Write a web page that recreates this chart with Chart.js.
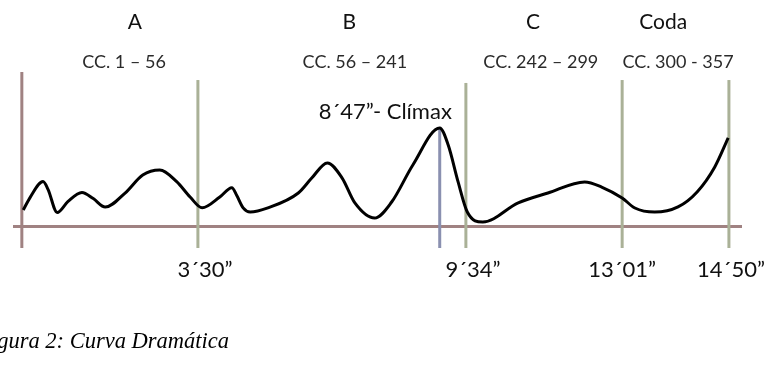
<!DOCTYPE html>
<html>
<head>
<meta charset="utf-8">
<script src="https://cdn.jsdelivr.net/npm/chart.js@4"></script>
<style>
  body { margin: 0; background: #fff; }
</style>
</head>
<body>
<canvas id="myChart" width="771" height="384"></canvas>
<script>
// Dramatic curve (x: position along the piece, y: tension)
const curveX = [0.2, 1.2, 3.0, 3.7, 5.0, 6.5, 8.5, 10.1, 11.8, 14.6, 17.1, 19.5, 21.9, 23.8, 25.5,
  28.0, 29.7, 30.4, 31.3, 32.3, 34.8, 39.1, 41.0, 43.2, 45.3, 47.1, 49.9, 52.3, 55.3, 59.1,
  60.3, 61.7, 63.0, 65.2, 70.2, 74.4, 79.6, 82.0, 84.9, 86.7, 89.5, 92.8, 95.5, 98.0, 99.9];
const curveY = [1.06, 1.9, 2.9, 2.4, 0.9, 1.6, 2.2, 1.8, 1.25, 2.16, 3.33, 3.65, 2.9, 1.9, 1.2,
  1.9, 2.5, 2.0, 1.2, 0.93, 1.2, 2.16, 3.13, 4.11, 3.13, 1.52, 0.54, 1.58, 3.98, 6.37,
  5.27, 2.88, 0.93, 0.28, 1.52, 2.16, 2.88, 2.55, 1.84, 1.19, 0.93, 1.26, 2.23, 3.85, 5.73];

// section boundaries (green lines) and their times
const markerX = [24.9, 62.8, 84.9, 100.0];
const markerTop = [9.48, 9.29, 9.48, 9.48];
const timeLabels = ['3´30”', '9´34”', '13´01”', '14´50”'];
const timeLabelX = [25.9, 63.8, 84.9, 100.3];

// climax
const climaxX = 59.1;
const climaxY = 6.37;
const climaxLabel = '8´47”- Clímax';
const climaxLabelX = 51.4;

// sections
const sections = ['A', 'B', 'C', 'Coda'];
const sectionX = [16.0, 46.3, 72.3, 90.7];
const bars = ['CC. 1 – 56', 'CC. 56 – 241', 'CC. 242 – 299', 'CC. 300 - 357'];
const barsX = [14.45, 47.1, 73.4, 92.8];

const xMin = -1.25, xMax = 101.85, yMin = -1.4, yMax = 10;

const curve = curveX.map((x, i) => ({ x: x, y: curveY[i] }));

const datasets = [
  {
    label: 'Curva',
    data: curve,
    borderColor: '#000',
    borderWidth: 3,
    pointRadius: 0,
    tension: 0.4,
    cubicInterpolationMode: 'monotone',
    order: 0,
  },
  {
    label: 'eje x',
    data: [{ x: xMin, y: 0 }, { x: xMax, y: 0 }],
    borderColor: '#a08282',
    borderWidth: 3,
    pointRadius: 0,
    order: 2,
  },
  {
    label: 'eje y',
    data: [{ x: 0, y: yMin }, { x: 0, y: yMax }],
    borderColor: '#a08282',
    borderWidth: 3,
    pointRadius: 0,
    order: 2,
  },
  {
    label: 'clímax',
    data: [{ x: climaxX, y: yMin }, { x: climaxX, y: climaxY }],
    borderColor: '#8a90b0',
    borderWidth: 3,
    pointRadius: 0,
    order: 1,
  },
];

markerX.forEach((x, i) => {
  datasets.push({
    label: timeLabels[i],
    data: [{ x: x, y: yMin }, { x: x, y: markerTop[i] }],
    borderColor: '#aab197',
    borderWidth: 3,
    pointRadius: 0,
    order: 1,
  });
});

const labelsPlugin = {
  id: 'labels',
  afterDraw(chart) {
    const ctx = chart.ctx;
    const xs = chart.scales.x, ys = chart.scales.y;
    ctx.save();
    ctx.fillStyle = '#111';
    ctx.textAlign = 'center';
    ctx.textBaseline = 'middle';

    ctx.font = '21px Lato';
    sections.forEach((s, i) => ctx.fillText(s, xs.getPixelForValue(sectionX[i]), ys.getPixelForValue(13.24)));

    ctx.font = '18px Lato';
    ctx.fillStyle = '#2a2a2a';
    bars.forEach((s, i) => ctx.fillText(s, xs.getPixelForValue(barsX[i]), ys.getPixelForValue(10.65)));

    ctx.font = '22px Lato';
    ctx.fillStyle = '#111';
    ctx.fillText(climaxLabel, xs.getPixelForValue(climaxLabelX), ys.getPixelForValue(7.4));

    ctx.font = '22px Lato';
    timeLabels.forEach((s, i) => ctx.fillText(s, xs.getPixelForValue(timeLabelX[i]), ys.getPixelForValue(-2.82)));

    // caption
    ctx.font = 'italic 22.5px "Liberation Serif"';
    ctx.fillStyle = '#000';
    ctx.textAlign = 'right';
    ctx.fillText('Figura 2: Curva Dramática', 229, 342);
    ctx.restore();
  },
};

new Chart(document.getElementById('myChart'), {
  type: 'line',
  data: { datasets: datasets },
  options: {
    responsive: false,
    animation: false,
    layout: { padding: { left: 13, right: 29, top: 72, bottom: 136 } },
    plugins: { legend: { display: false }, tooltip: { enabled: false } },
    scales: {
      x: { type: 'linear', min: xMin, max: xMax, display: false },
      y: { min: yMin, max: yMax, display: false },
    },
  },
  plugins: [labelsPlugin],
});
</script>
</body>
</html>
